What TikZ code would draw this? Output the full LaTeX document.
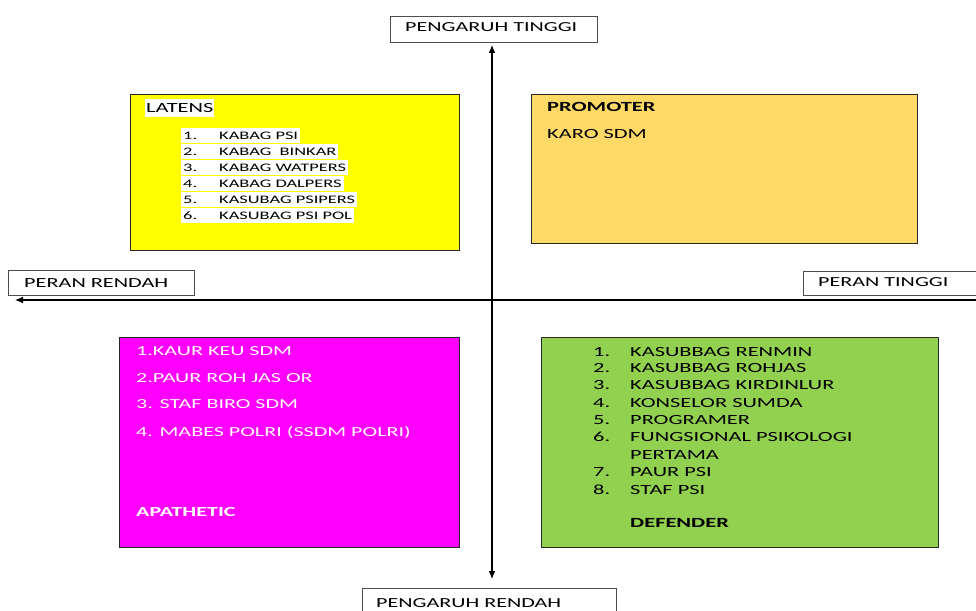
\documentclass[tikz,border=0pt]{standalone}
\usepackage{fontspec}
\setmainfont{Carlito}[FakeStretch=1.6]
\usetikzlibrary{arrows.meta}
\newcommand\txtsize[1]{\fontsize{#1}{#1}\selectfont}
\newcommand\numitem[3]{\makebox[#1][l]{#2}#3}

\definecolor{latensfill}{HTML}{FFFF00}
\definecolor{promofill}{HTML}{FFD966}
\definecolor{apafill}{HTML}{FF00FF}
\definecolor{deffill}{HTML}{92D050}

\begin{document}
\begin{tikzpicture}[x=1pt,y=-1pt,
  quad/.style={draw=black!85, line width=0.8pt, anchor=north west, inner sep=0pt},
  axisbox/.style={draw=black!70, line width=0.7pt, fill=white, anchor=north west, inner sep=0pt},
  lbl/.style={anchor=base west, inner sep=0pt},
  hilite/.style={anchor=base west, fill=white, inner xsep=2pt, inner ysep=1pt, text height=10pt, text depth=3pt},
  axisline/.style={line width=1.2pt, -{Latex[length=8pt,width=7pt]}},
]
\useasboundingbox (0,0) rectangle (976,610);
\clip (0,0) rectangle (976,610);

% quadrant boxes
\node[quad, fill=latensfill, minimum width=329pt, minimum height=156pt] (latens) at (130,94) {};
\node[quad, fill=promofill, minimum width=386pt, minimum height=149pt] (promoter) at (531,94) {};
\node[quad, fill=apafill, minimum width=340pt, minimum height=210pt] (apathetic) at (119,337) {};
\node[quad, fill=deffill, minimum width=397pt, minimum height=210pt] (defender) at (541,337) {};

% axis label boxes
\node[axisbox, minimum width=207pt, minimum height=26pt] (pt) at (390,16) {};
\node[axisbox, minimum width=186pt, minimum height=25pt] (pr) at (8,270) {};
\node[axisbox, minimum width=180pt, minimum height=24pt] (ptg) at (803,271) {};
\node[axisbox, minimum width=254pt, minimum height=30pt] (prd) at (362,588) {};

\node[lbl, font=\txtsize{13.8}] (ptt) at (405,32) {PENGARUH TINGGI};
\node[lbl, font=\txtsize{13.9}] (prt) at (24,287) {PERAN RENDAH};
\node[lbl, font=\txtsize{13.8}] (ptgt) at (818,286) {PERAN TINGGI};
\node[lbl, font=\txtsize{13.8}] (prdt) at (376,607) {PENGARUH RENDAH};

% axes
\coordinate (vtop) at (492,45);
\coordinate (vbot) at (492,579);
\coordinate (hleft) at (15,300);
\coordinate (hright) at (976,300);
\draw[axisline] (hright) -- (hleft);
\draw[line width=1.2pt, {Latex[length=8pt,width=7pt]}-{Latex[length=8pt,width=7pt]}] (vbot) -- (vtop);

% LATENS
\node[anchor=base west, fill=white, inner xsep=1pt, inner ysep=1pt, text height=12pt, text depth=4pt, font=\txtsize{14}] (lt) at (145,112) {LATENS};
\begin{scope}[font=\txtsize{11.5}]
\node[hilite] (l1) at (181,139) {\numitem{36pt}{1.}{KABAG PSI}};
\node[hilite] (l2) at (181,155) {\numitem{36pt}{2.}{KABAG\ \ BINKAR}};
\node[hilite] (l3) at (181,171) {\numitem{36pt}{3.}{KABAG WATPERS}};
\node[hilite] (l4) at (181,187) {\numitem{36pt}{4.}{KABAG DALPERS}};
\node[hilite] (l5) at (181,203) {\numitem{36pt}{5.}{KASUBAG PSIPERS}};
\node[hilite] (l6) at (181,219) {\numitem{36pt}{6.}{KASUBAG PSI POL}};
\end{scope}

% PROMOTER
\node[lbl, font=\txtsize{14}\bfseries] (pm) at (547,111) {PROMOTER};
\node[lbl, font=\txtsize{14}] (pm1) at (547,138) {KARO SDM};

% APATHETIC
\begin{scope}[font=\txtsize{13.8}, text=white]
\node[lbl] (a1) at (136,355) {1.KAUR KEU SDM};
\node[lbl] (a2) at (136,382) {2.PAUR ROH JAS OR};
\node[lbl] (a3) at (136,408) {3. STAF BIRO SDM};
\node[lbl] (a4) at (136,436) {4. MABES POLRI (SSDM POLRI)};
\node[lbl, font=\txtsize{13.8}\bfseries] (at) at (136,516) {APATHETIC};
\end{scope}

% DEFENDER
\begin{scope}[font=\txtsize{14}]
\node[lbl] (d1) at (593,356) {\numitem{37pt}{1.}{KASUBBAG RENMIN}};
\node[lbl] (d2) at (593,372) {\numitem{37pt}{2.}{KASUBBAG ROHJAS}};
\node[lbl] (d3) at (593,389) {\numitem{37pt}{3.}{KASUBBAG KIRDINLUR}};
\node[lbl] (d4) at (593,407) {\numitem{37pt}{4.}{KONSELOR SUMDA}};
\node[lbl] (d5) at (593,424) {\numitem{37pt}{5.}{PROGRAMER}};
\node[lbl] (d6) at (593,441) {\numitem{37pt}{6.}{FUNGSIONAL PSIKOLOGI}};
\node[lbl] (d6b) at (630,459) {PERTAMA};
\node[lbl] (d7) at (593,476) {\numitem{37pt}{7.}{PAUR PSI}};
\node[lbl] (d8) at (593,494) {\numitem{37pt}{8.}{STAF PSI}};
\node[lbl, font=\txtsize{14}\bfseries] (dt) at (630,527) {DEFENDER};
\end{scope}
\end{tikzpicture}
\end{document}
